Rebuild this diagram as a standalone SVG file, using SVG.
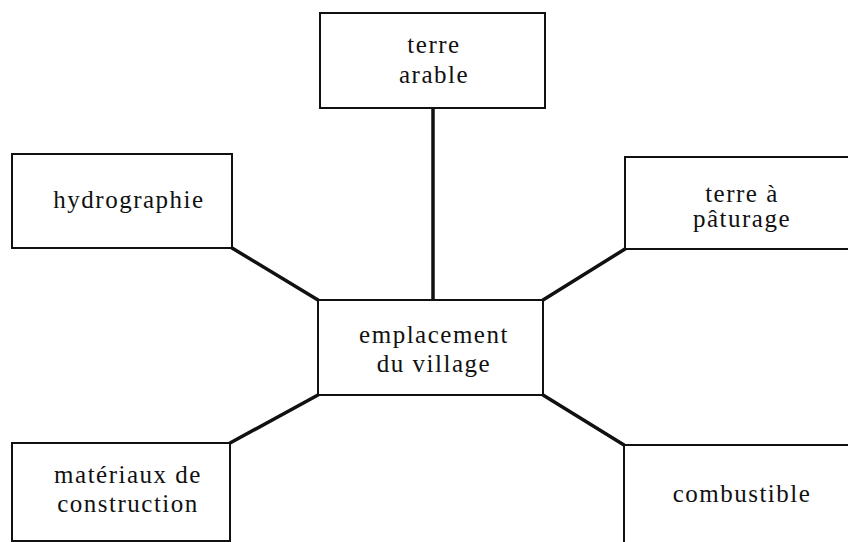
<svg xmlns="http://www.w3.org/2000/svg" width="848" height="542" viewBox="0 0 848 542">
<style>
.box{fill:#fff;stroke:#111;stroke-width:2}
.lbl{font-size:25px;letter-spacing:1.5px;fill:#111;text-anchor:middle}
.conn{stroke:#111;stroke-width:3.5;fill:none;stroke-linecap:round}
</style>
<rect width="848" height="542" fill="#fff"/>
<g id="connectors">
<line class="conn" x1="433" y1="108" x2="433" y2="300"/>
<line class="conn" x1="232" y1="248" x2="318" y2="300"/>
<line class="conn" x1="543" y1="300" x2="625" y2="249"/>
<line class="conn" x1="318" y1="395" x2="230" y2="443"/>
<line class="conn" x1="543" y1="395" x2="624" y2="445"/>
</g>
<g font-family="Liberation Serif, DejaVu Serif, serif">
<g id="terre-arable">
<rect class="box" x="320" y="13" width="225" height="95"/>
<text class="lbl" x="434" y="53">terre</text>
<text class="lbl" x="434" y="83">arable</text>
</g>
<g id="hydrographie">
<rect class="box" x="12" y="154" width="220" height="94"/>
<text class="lbl" x="129" y="208">hydrographie</text>
</g>
<g id="terre-paturage">
<rect class="box" x="625" y="157" width="230" height="92"/>
<text class="lbl" x="742" y="202">terre à</text>
<text class="lbl" x="742" y="227">pâturage</text>
</g>
<g id="emplacement">
<rect class="box" x="318" y="300" width="225" height="95"/>
<text class="lbl" x="434" y="343">emplacement</text>
<text class="lbl" x="434" y="372">du village</text>
</g>
<g id="materiaux">
<rect class="box" x="12" y="443" width="218" height="98"/>
<text class="lbl" x="128" y="483">matériaux de</text>
<text class="lbl" x="128" y="512">construction</text>
</g>
<g id="combustible">
<rect class="box" x="624" y="445" width="235" height="110"/>
<text class="lbl" x="742" y="502">combustible</text>
</g>
</g>
</svg>
